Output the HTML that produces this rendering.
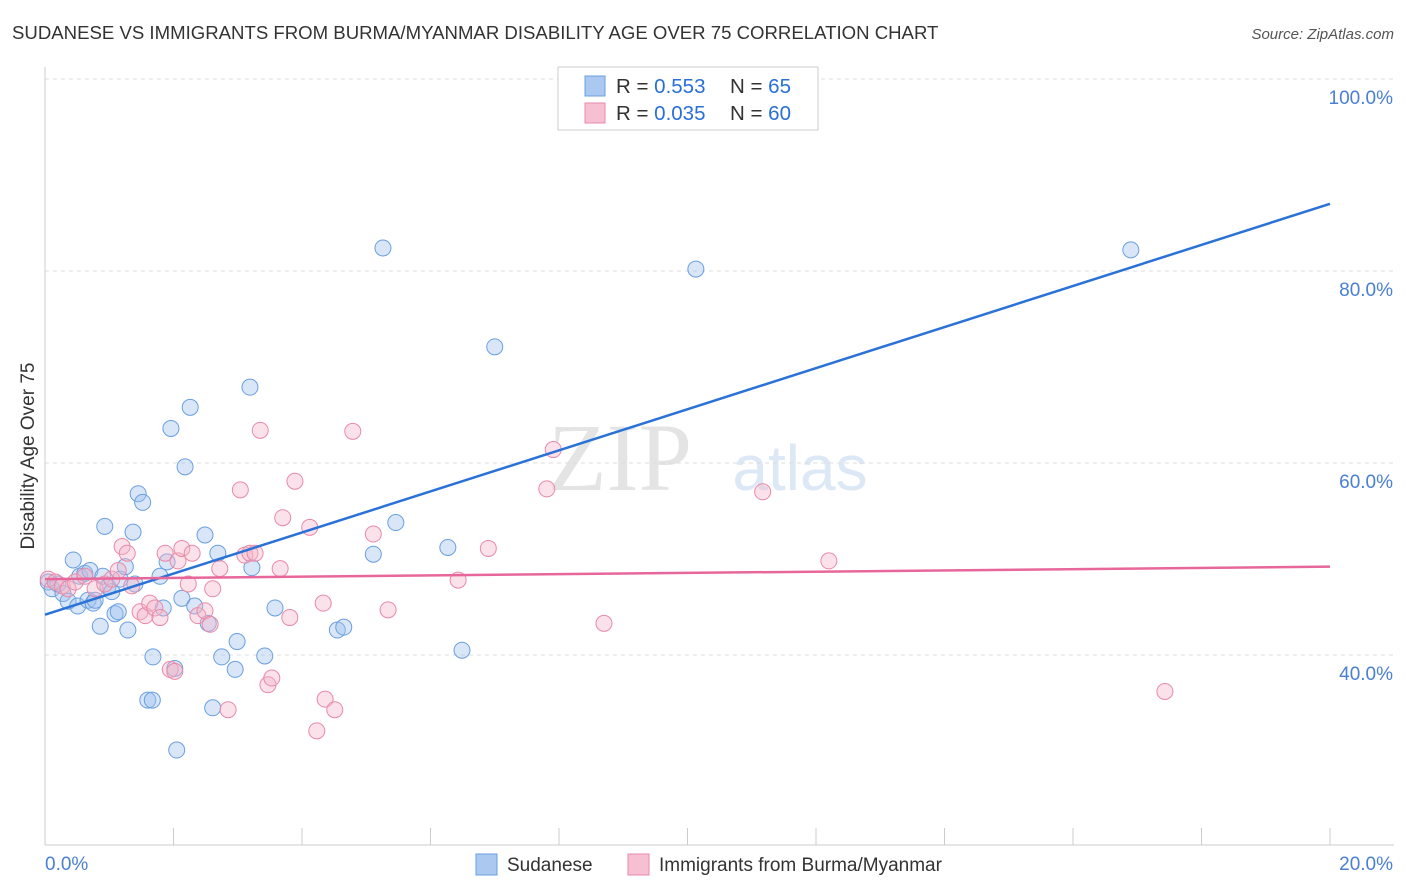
<!DOCTYPE html>
<html><head><meta charset="utf-8">
<style>
body{margin:0;background:#fff;font-family:"Liberation Sans",sans-serif;}
#wrap{position:relative;width:1406px;height:892px;overflow:hidden;}
</style></head>
<body>
<div id="wrap">
<svg id="chart" width="1406" height="892">
<text x="12" y="39" font-size="18.6" fill="#333">SUDANESE VS IMMIGRANTS FROM BURMA/MYANMAR DISABILITY AGE OVER 75 CORRELATION CHART</text>
<text x="1394" y="39" font-size="15" fill="#555" font-style="italic" text-anchor="end">Source: ZipAtlas.com</text>
<text x="620" y="490" font-size="96" fill="#e4e4e4" font-family="Liberation Serif,serif" text-anchor="middle">ZIP</text>
<text x="800" y="490" font-size="64" fill="#dce8f6" text-anchor="middle">atlas</text>
<text x="34" y="456" font-size="19" fill="#333" text-anchor="middle" transform="rotate(-90 34 456)">Disability Age Over 75</text>
<g id="grid"></g><g id="axes"></g><g id="pts"></g><g id="lines"></g>
<g>
<rect x="558" y="67" width="260" height="63" fill="#fff" stroke="#ccc"/>
<rect x="585" y="76" width="20" height="20" fill="#aac8f0" stroke="#6a9fe0"/>
<rect x="585" y="103" width="20" height="20" fill="#f7c0d2" stroke="#e88aa8"/>
<text x="616" y="93" font-size="20.5" fill="#333">R = <tspan fill="#2a6fd6">0.553</tspan><tspan x="730">N = </tspan><tspan fill="#2a6fd6">65</tspan></text>
<text x="616" y="120" font-size="20.5" fill="#333">R = <tspan fill="#2a6fd6">0.035</tspan><tspan x="730">N = </tspan><tspan fill="#2a6fd6">60</tspan></text>
</g>
<g>
<rect x="476" y="854" width="21" height="21" fill="#aac8f0" stroke="#6a9fe0"/>
<text x="507" y="871" font-size="19" fill="#333">Sudanese</text>
<rect x="628" y="854" width="21" height="21" fill="#f7c0d2" stroke="#e88aa8"/>
<text x="659" y="871" font-size="19" fill="#333">Immigrants from Burma/Myanmar</text>
</g>
</svg>
</div>
<script>
const yTicks=[40,60,80,100];
const yTickLabels=["40.0%","60.0%","80.0%","100.0%"];
const xTickLabels=["0.0%","20.0%"];
const blueX=[0.05,0.11,0.2,0.28,0.36,0.44,0.51,0.54,0.62,0.67,0.7,0.75,0.78,0.86,0.9,0.93,0.98,1.04,1.09,1.14,1.17,1.25,1.29,1.37,1.4,1.45,1.52,1.6,1.67,1.68,1.79,1.84,1.9,1.96,2.05,2.02,2.13,2.18,2.26,2.33,2.49,2.54,2.61,2.69,2.75,2.96,2.99,3.19,3.22,3.42,3.58,4.55,4.65,5.11,5.26,5.46,6.27,6.49,7.0,10.13,16.9];
const blueY=[47.6,46.9,47.4,46.4,45.6,49.9,45.1,48.2,48.5,45.7,48.8,45.4,45.7,43.0,48.2,53.4,47.1,46.6,44.3,44.5,47.9,49.2,42.6,52.8,47.4,56.8,55.9,35.3,35.3,39.8,48.2,44.9,49.7,63.6,30.1,38.6,45.9,59.6,65.8,45.1,52.5,43.3,34.5,50.6,39.8,38.5,41.4,67.9,49.1,39.9,44.9,42.6,42.9,50.5,82.4,53.8,51.2,40.5,72.1,80.2,82.2];
const pinkX=[0.05,0.16,0.27,0.36,0.47,0.62,0.78,0.93,1.04,1.14,1.2,1.28,1.35,1.48,1.56,1.63,1.71,1.79,1.87,1.95,2.02,2.07,2.13,2.23,2.29,2.38,2.49,2.57,2.61,2.72,2.85,3.04,3.11,3.19,3.27,3.35,3.47,3.53,3.66,3.7,3.81,3.89,4.12,4.23,4.33,4.36,4.51,4.79,5.11,5.34,6.43,6.9,7.81,7.91,8.7,11.17,12.2,17.43];
const pinkY=[47.9,47.6,47.2,46.9,47.6,48.2,46.9,47.4,47.9,48.8,51.3,50.6,47.2,44.5,44.1,45.4,44.9,43.9,50.6,38.5,38.3,49.8,51.1,47.4,50.6,44.1,44.6,43.2,46.9,49.0,34.3,57.2,50.4,50.6,50.6,63.4,36.9,37.6,49.0,54.3,43.9,58.1,53.3,32.1,45.4,35.4,34.3,63.3,52.6,44.7,47.8,51.1,57.3,61.4,43.3,57.0,49.8,36.2];
const blueLine=[44.2,87.0];
const pinkLine=[47.9,49.2];

const NS="http://www.w3.org/2000/svg";
const X=v=>45+v/20*1285;
const Y=v=>79+(100-v)*9.6;
function mk(t,a,p){const e=document.createElementNS(NS,t);for(const k in a)e.setAttribute(k,a[k]);p.appendChild(e);return e;}
const grid=document.getElementById('grid'),axes=document.getElementById('axes'),pts=document.getElementById('pts'),lines=document.getElementById('lines');
yTicks.forEach((t,i)=>{
 const g=mk('line',{x1:45,x2:1394,y1:Y(t),y2:Y(t),stroke:'#ddd','stroke-dasharray':'4,4'},grid);
 
 
 const l=mk('text',{x:1393,y:Y(t)+25,'font-size':19,fill:'#4a7fd4','text-anchor':'end'},axes);
 l.textContent=yTickLabels[i];
 
 
});
const ax=mk('line',{x1:45,x2:45,y1:67,y2:845,stroke:'#ccc'},axes);


const bx=mk('line',{x1:45,x2:1394,y1:845,y2:845,stroke:'#ccc'},axes);


for(let i=0;i<=10;i++){const t=mk('line',{x1:X(i*2),x2:X(i*2),y1:828,y2:845,stroke:'#ccc'},axes);
 
 }
[[0,'start',45],[20,'end',1393]].forEach((d,i)=>{const l=mk('text',{x:d[2],y:870,'font-size':19,fill:'#4a7fd4','text-anchor':d[1]},axes);l.textContent=xTickLabels[i];
 
 });
function dots(xs,ys,fill,stroke,name){xs.forEach((x,i)=>{const c=mk('circle',{cx:X(x),cy:Y(ys[i]),r:8,fill:fill,'fill-opacity':0.4,stroke:stroke,'stroke-width':1},pts);
 
 });}
dots(blueX,blueY,'#9ec0ee','#6a9fe0','sudanese-point');
dots(pinkX,pinkY,'#f5b3c8','#e88aa8','burma-point');
const bl=mk('line',{x1:X(0),y1:Y(blueLine[0]),x2:X(20),y2:Y(blueLine[1]),stroke:'#2a72d8','stroke-width':2.5},lines);


const pl=mk('line',{x1:X(0),y1:Y(pinkLine[0]),x2:X(20),y2:Y(pinkLine[1]),stroke:'#e8679a','stroke-width':2.5},lines);


</script>
</body></html>
